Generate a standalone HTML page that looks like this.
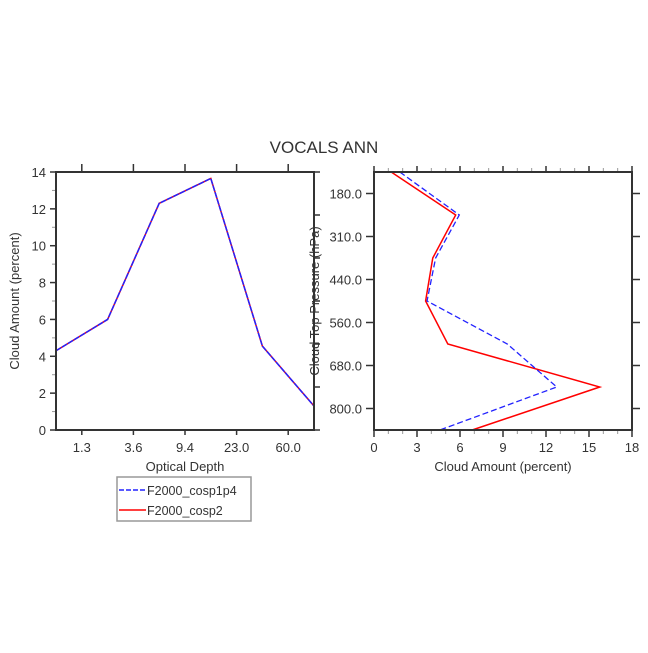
<!DOCTYPE html>
<html><head><meta charset="utf-8"><style>
body{margin:0;background:#fff}
svg text{font-family:"Liberation Sans",sans-serif;fill:#333}
</style></head><body>
<svg width="648" height="648" viewBox="0 0 648 648">
<text x="324" y="153" font-size="17" text-anchor="middle">VOCALS ANN</text>
<g id="left"></g>
<g id="right"></g>
<g>
<rect x="117" y="477" width="134" height="44" fill="#fff" stroke="#999" stroke-width="1.5"/>
<line x1="119" y1="490" x2="146" y2="490" stroke="#22f" stroke-width="1.5" stroke-dasharray="5,2"/>
<text x="147" y="495" font-size="12.5">F2000_cosp1p4</text>
<line x1="119" y1="510" x2="146" y2="510" stroke="#f00" stroke-width="1.5"/>
<text x="147" y="515" font-size="12.5">F2000_cosp2</text>
</g>
</svg>
<script>
const tauLabels=["1.3","3.6","9.4","23.0","60.0"];
const tauBlue=[4.3,6.0,12.3,13.65,4.55,1.3];
const tauRed=[4.3,6.0,12.3,13.65,4.55,1.3];
const yTicksL=[0,2,4,6,8,10,12,14];
const presLabels=["180.0","310.0","440.0","560.0","680.0","800.0"];
const presBlue=[1.8,5.95,4.3,3.7,9.3,12.75,4.6];
const presRed=[1.2,5.7,4.1,3.6,5.15,15.75,6.85];
const xTicksR=[0,3,6,9,12,15,18];
const NS="http://www.w3.org/2000/svg";
function el(p,t,a){const e=document.createElementNS(NS,t);for(const k in a)e.setAttribute(k,a[k]);p.appendChild(e);return e;}
const L=document.getElementById('left'),R=document.getElementById('right');
const lx0=56,lx1=314,ty=172,by=430;
const lX=i=>lx0+i*(lx1-lx0)/(tauBlue.length-1);
const lY=v=>by-v*(by-ty)/14;
// left ticks
yTicksL.forEach(v=>{const t=el(L,'line',{x1:lx0-6,x2:lx0,y1:lY(v),y2:lY(v),stroke:'#333','stroke-width':1.5});


const tx=el(L,'text',{x:lx0-10,y:lY(v)+5,'font-size':13,'text-anchor':'end'});tx.textContent=v;


if(v<14){const m=el(L,'line',{x1:lx0-4,x2:lx0,y1:lY(v+1),y2:lY(v+1),stroke:'#999','stroke-width':1});

}
});
tauLabels.forEach((s,i)=>{const x=(lX(i)+lX(i+1))/2;
const t=el(L,'line',{x1:x,x2:x,y1:ty-8,y2:ty,stroke:'#333','stroke-width':1.5});


const b=el(L,'line',{x1:x,x2:x,y1:by,y2:by+5,stroke:'#333','stroke-width':1.5});


const tx=el(L,'text',{x:x,y:by+22,'font-size':13,'text-anchor':'middle'});tx.textContent=s;

});
const ly=el(L,'text',{x:19,y:301,'font-size':13,'text-anchor':'middle',transform:'rotate(-90 19 301)'});ly.textContent='Cloud Amount (percent)';


const lxt=el(L,'text',{x:185,y:471,'font-size':13,'text-anchor':'middle'});lxt.textContent='Optical Depth';


const lr=el(L,'polyline',{points:tauRed.map((v,i)=>lX(i)+','+lY(v)).join(' '),fill:'none',stroke:'#f00','stroke-width':1.5});


const lb=el(L,'polyline',{points:tauBlue.map((v,i)=>lX(i)+','+lY(v)).join(' '),fill:'none',stroke:'#22f','stroke-width':1.5,'stroke-dasharray':'6,1'});


const lf=el(L,'rect',{x:lx0,y:ty,width:lx1-lx0,height:by-ty,fill:'none',stroke:'#333','stroke-width':2});


// right
const rx0=374,rx1=632;
const rX=v=>rx0+v*(rx1-rx0)/18;
const rY=i=>ty+i*(by-ty)/(presBlue.length-1);
xTicksR.forEach(v=>{const t=el(R,'line',{x1:rX(v),x2:rX(v),y1:by,y2:by+7,stroke:'#333','stroke-width':1.5});


const tt=el(R,'line',{x1:rX(v),x2:rX(v),y1:ty-6,y2:ty,stroke:'#333','stroke-width':1.5});


const tx=el(R,'text',{x:rX(v),y:by+22,'font-size':13,'text-anchor':'middle'});tx.textContent=v;


if(v<18){[1,2].forEach(k=>{const m=el(R,'line',{x1:rX(v+k),x2:rX(v+k),y1:by,y2:by+4,stroke:'#999','stroke-width':1});


const m2=el(R,'line',{x1:rX(v+k),x2:rX(v+k),y1:ty-4,y2:ty,stroke:'#999','stroke-width':1});

});}
});
presLabels.forEach((s,i)=>{const y=(rY(i)+rY(i+1))/2;
const t=el(R,'line',{x1:rx0-8,x2:rx0,y1:y,y2:y,stroke:'#333','stroke-width':1.5});


const t2=el(R,'line',{x1:rx1,x2:rx1+8,y1:y,y2:y,stroke:'#333','stroke-width':1.5});


const tx=el(R,'text',{x:rx0-12,y:y+5,'font-size':13,'text-anchor':'end'});tx.textContent=s;

});
for(let i=0;i<presBlue.length;i++){const m=el(R,'line',{x1:314,x2:320,y1:rY(i),y2:rY(i),stroke:'#333','stroke-width':1.5});

}
const ry=el(R,'text',{x:319,y:301,'font-size':13,'text-anchor':'middle',transform:'rotate(-90 319 301)'});ry.textContent='Cloud Top Pressure (hPa)';


const rxt=el(R,'text',{x:503,y:471,'font-size':13,'text-anchor':'middle'});rxt.textContent='Cloud Amount (percent)';


const rr=el(R,'polyline',{points:presRed.map((v,i)=>rX(v)+','+rY(i)).join(' '),fill:'none',stroke:'#f00','stroke-width':1.5});


const rb=el(R,'polyline',{points:presBlue.map((v,i)=>rX(v)+','+rY(i)).join(' '),fill:'none',stroke:'#22f','stroke-width':1.3,'stroke-dasharray':'6,3'});


const rf=el(R,'rect',{x:rx0,y:ty,width:rx1-rx0,height:by-ty,fill:'none',stroke:'#333','stroke-width':2});


</script>
</body></html>
